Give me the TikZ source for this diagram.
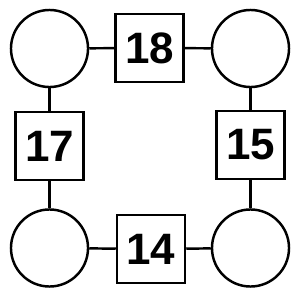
\documentclass[tikz,border=0pt]{standalone}
\usepackage{fontspec}
\setmainfont{Liberation Sans}
\begin{document}
\begin{tikzpicture}[x=0.01cm,y=-0.01cm,
  every path/.style={line width=0.7pt},
  ring/.style={draw, circle, minimum size=0.77cm, inner sep=0pt},
  numbox/.style={draw, rectangle, minimum size=0.68cm, inner sep=0pt, font=\fontsize{12.5}{14}\selectfont\bfseries}]
\useasboundingbox (0,0) rectangle (300,300);
\node[ring] (tl) at (49.5,48.5) {};
\node[ring] (tr) at (250.5,48.5) {};
\node[ring] (bl) at (49.5,248) {};
\node[ring] (br) at (250.5,248) {};
\node[numbox] (top) at (149.5,48) {18};
\node[numbox] (left) at (49.5,146) {17};
\node[numbox] (right) at (250.5,145) {15};
\node[numbox] (bot) at (151,249) {14};
\draw (tl) -- (top);
\draw (top) -- (tr);
\draw (tl) -- (left);
\draw (left) -- (bl);
\draw (tr) -- (right);
\draw (right) -- (br);
\draw (bl) -- (bot);
\draw (bot) -- (br);
\end{tikzpicture}
\end{document}
